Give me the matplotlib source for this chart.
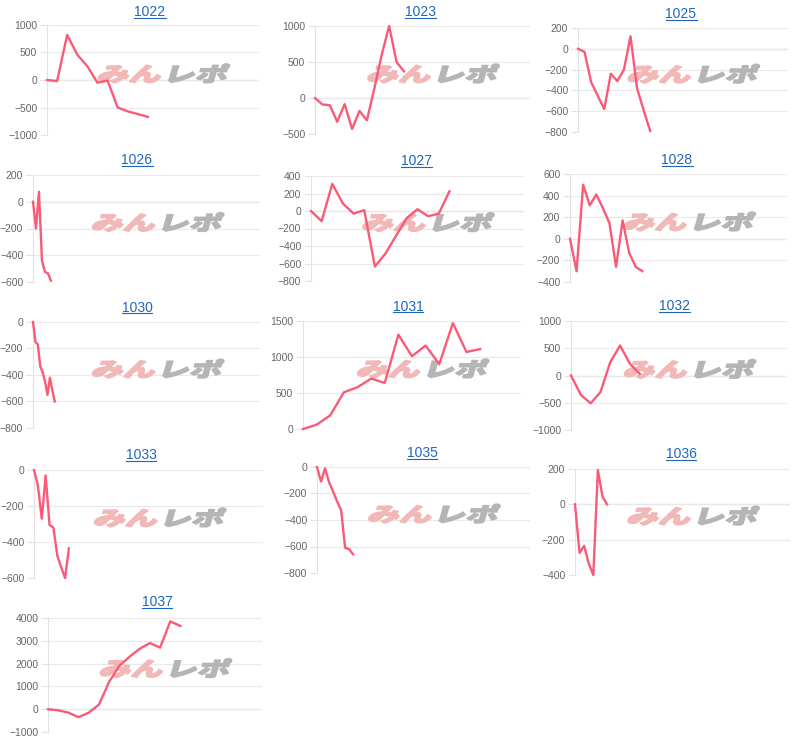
import numpy as np
import matplotlib.pyplot as plt
import matplotlib.transforms as mtransforms
from matplotlib.textpath import TextPath
from matplotlib.patches import PathPatch
from matplotlib.font_manager import FontProperties
from matplotlib.lines import Line2D

plt.rcParams['font.family'] = ['Liberation Sans', 'DejaVu Sans']

# --- data ---
titles = ['1022', '1023', '1025', '1026', '1027', '1028', '1030',
          '1031', '1032', '1033', '1035', '1036', '1037']

v1022 = [0, -20, 820, 460, 250, -50, -10, -500, -570, -620, -670]
v1023 = [0, -90, -100, -330, -85, -430, -180, -310, 130, 600, 1000, 500, 370]
v1025 = [0, -30, -320, -450, -580, -240, -310, -200, 120, -380, -590, -790]
v1026 = [0, -200, 75, -440, -525, -535, -590]
v1027 = [0, -115, 310, 85, -30, 10, -635, -485, -280, -80, 20, -60, -30, 225]
v1028 = [0, -300, 500, 310, 410, 285, 145, -260, 170, -130, -260, -300]
v1030 = [0, -150, -170, -335, -380, -450, -550, -420, -515, -600]
v1031 = [0, 60, 190, 510, 580, 700, 640, 1310, 1010, 1160, 900, 1470, 1070, 1110]
v1032 = [0, -355, -510, -305, 245, 550, 215, 30]
v1033 = [0, -85, -270, -30, -305, -320, -475, -540, -600, -435]
v1035 = [0, -110, -10, -115, -185, -260, -325, -610, -620, -660]
v1036 = [0, -275, -235, -335, -400, 195, 45, 0]
v1037 = [0, -50, -150, -350, -150, 200, 1200, 1900, 2300, 2650, 2900, 2700, 3850, 3650]

series = [v1022, v1023, v1025, v1026, v1027, v1028, v1030,
          v1031, v1032, v1033, v1035, v1036, v1037]

# number of x categories on each chart's axis
x_slots = [21, 29, 32, 76, 20, 33, 94, 16, 22, 59, 53, 47, 21]

# y axis ticks (min, max, step)
y_min = [-1000, -500, -800, -600, -800, -400, -800, 0, -1000, -600, -800, -400, -1000]
y_max = [1000, 1000, 200, 200, 400, 600, 0, 1500, 1000, 0, 0, 200, 4000]
y_step = [500, 500, 200, 200, 200, 200, 200, 500, 500, 200, 200, 200, 1000]

# --- layout in pixels (left, top, right, bottom) and title centres ---
W, H = 800, 748
boxes = [
    (47, 25, 259, 135), (315, 26, 530, 134), (578, 28, 788, 132),
    (33, 175, 260, 282), (311, 176, 524, 281), (570, 174, 787, 282),
    (33, 322, 260, 428), (303, 321, 521, 429), (571, 321, 787, 430),
    (34, 470, 263, 578), (317, 467, 530, 573), (575, 469, 790, 575),
    (48, 618, 262, 732),
]
title_pos = [
    (150, 12), (420, 12), (681, 14),
    (137, 160), (416, 161), (677, 160),
    (137, 308), (408, 307), (674, 306),
    (141, 455), (422, 453), (681, 454),
    (157, 602),
]

line_color = '#fb5a77'
link_color = '#1f66c1'

fig = plt.figure(figsize=(W / 100, H / 100), dpi=100)

# watermark glyphs (heavy, slanted logo look)
fp = FontProperties(family='Noto Sans CJK JP', weight='heavy')
p1 = TextPath((0, 0), 'みん', size=1, prop=fp)
w1 = p1.get_extents().x1
p2 = TextPath((w1 + 0.1, 0), 'レポ', size=1, prop=fp)
ext = mtransforms.Bbox.union([p1.get_extents(), p2.get_extents()])
cx, cy = (ext.x0 + ext.x1) / 2, (ext.y0 + ext.y1) / 2
sx, sy = 128 / ext.width, 19 / ext.height


def watermark(ax):
    for path, col in [(p1, '#f2b8b8'), (p2, '#b5b5b5')]:
        tr = (mtransforms.Affine2D().translate(-cx, -cy).scale(sx, sy).skew_deg(16, 0)
              + mtransforms.ScaledTranslation(0.55, 0.56, ax.transAxes))
        patch = PathPatch(path, facecolor=col, edgecolor=col, lw=1.1,
                          joinstyle='round', transform=tr, zorder=1)
        ax.add_artist(patch)


title_texts = []
for i, vals in enumerate(series):
    l, t, r, b = boxes[i]
    ax = fig.add_axes([l / W, 1 - b / H, (r - l) / W, (b - t) / H])
    x = np.arange(len(vals))
    ax.set_xlim(0, x_slots[i])
    ax.set_ylim(y_min[i], y_max[i])
    ax.set_yticks(np.arange(y_min[i], y_max[i] + 1, y_step[i]))
    ax.set_xticks([])
    ax.yaxis.grid(True, color='#e9e9e9', lw=0.8)
    if y_min[i] < 0 < y_max[i]:
        ax.axhline(0, color='#d2d2d2', lw=0.9, zorder=0.5)
    ax.set_axisbelow(True)
    for s in ['top', 'right', 'bottom']:
        ax.spines[s].set_visible(False)
    ax.spines['left'].set_color('#e2e2e2')
    ax.spines['left'].set_linewidth(0.8)
    ax.tick_params(axis='y', length=5, width=0.8, color='#e2e2e2',
                   labelsize=7.5, labelcolor='#666666', pad=2)
    watermark(ax)
    ax.plot(x, vals, color=line_color, lw=1.7, zorder=3, clip_on=False)

    tx, ty = title_pos[i]
    tt = fig.text(tx / W, 1 - ty / H, titles[i], ha='center', va='center',
                  fontsize=10, color=link_color)
    title_texts.append(tt)

# underline the titles like links
fig.canvas.draw()
for tt in title_texts:
    bb = tt.get_window_extent()
    yl = bb.y0 + 1.5
    fig.add_artist(Line2D([bb.x0 / W, bb.x1 / W], [yl / H, yl / H],
                          transform=fig.transFigure, color=link_color, lw=0.8))

fig.savefig('out.png', dpi=100)
